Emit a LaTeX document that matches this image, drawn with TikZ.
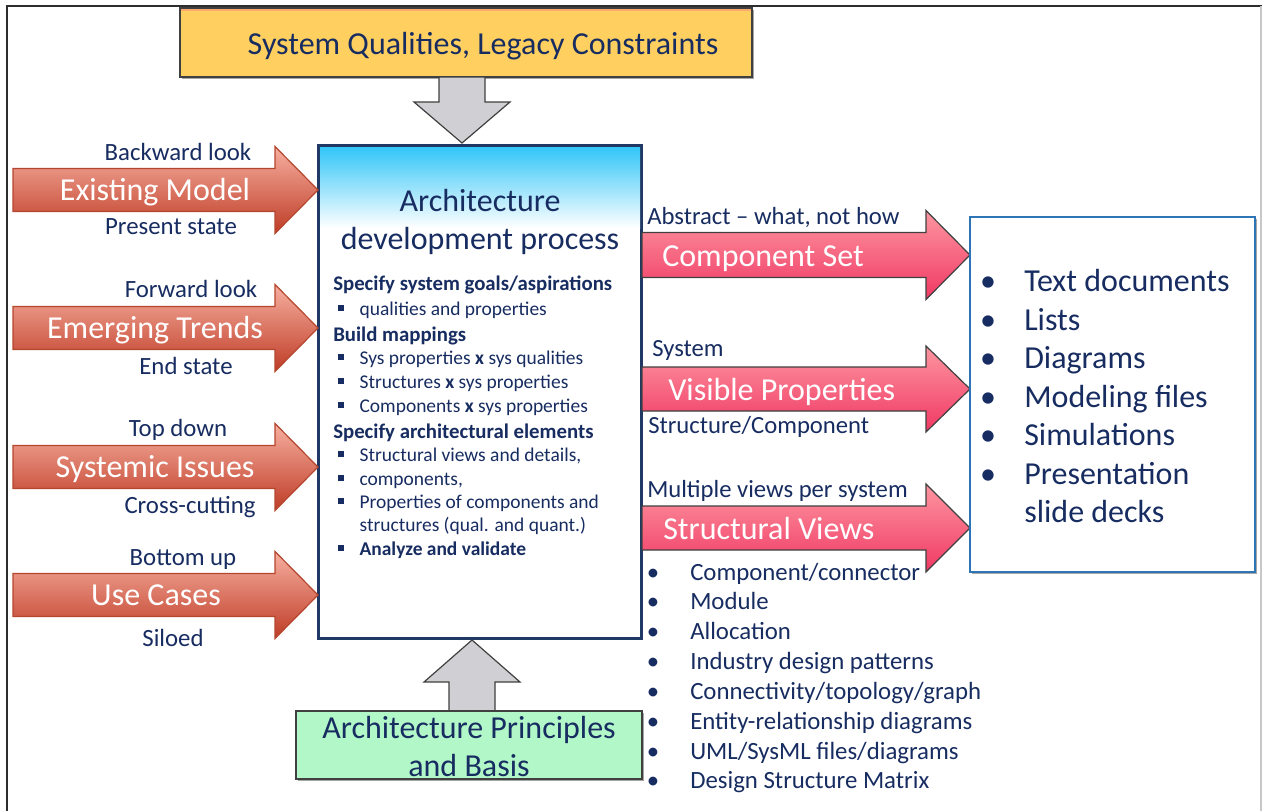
\documentclass[tikz,border=0pt]{standalone}
\usepackage{fontspec}
\setmainfont{Carlito}
\usetikzlibrary{shadows}
\definecolor{navy}{RGB}{23,44,96}
\definecolor{boxnavy}{RGB}{31,56,100}
\definecolor{salT}{RGB}{247,175,160}
\definecolor{salM}{RGB}{230,105,85}
\definecolor{salB}{RGB}{190,60,38}
\definecolor{salD}{RGB}{180,70,45}
\definecolor{pinkT}{RGB}{253,150,160}
\definecolor{pinkM}{RGB}{248,88,118}
\definecolor{pinkB}{RGB}{240,56,100}
\definecolor{edgegray}{RGB}{64,64,64}
\definecolor{arrgray}{RGB}{208,208,212}
\definecolor{yelfill}{RGB}{255,208,95}
\definecolor{yeltop}{RGB}{250,170,110}
\definecolor{grnfill}{RGB}{178,247,200}
\definecolor{cyantop}{RGB}{50,198,248}
\definecolor{rbox}{RGB}{46,117,182}
\definecolor{framegray}{RGB}{45,45,45}
\definecolor{lightframe}{RGB}{200,200,200}
\newcommand\blockR[7]{\path[#1] (#2,#5-#6) -- (#3,#5-#6) -- (#3,#5-#7) -- (#4,#5) -- (#3,#5+#7) -- (#3,#5+#6) -- (#2,#5+#6) -- cycle;}
\newcommand\sqbul{\makebox[17.5pt][l]{\hspace{1.5pt}\raisebox{0.2em}{\rule{0.3em}{0.3em}}}}
\tikzset{
  lbl/.style={text=navy, font=\fontsize{18.6}{22}\selectfont, inner sep=0pt},
  rlbl/.style={text=navy, font=\fontsize{18.5}{22}\selectfont, inner sep=0pt, anchor=base west},
  albl/.style={text=white, font=\fontsize{24}{28}\selectfont, inner sep=0pt},
  leftarr/.style={top color=salT, middle color=salM, bottom color=salB, draw=salD, line width=0.9pt},
  rightarr/.style={top color=pinkT, middle color=pinkM, bottom color=pinkB, draw=edgegray, line width=0.9pt},
  grayarr/.style={fill=arrgray, draw=edgegray, line width=0.9pt},
  boxline/.style={text=navy, font=\fontsize{14.6}{17}\selectfont, inner sep=0pt, anchor=base west},
  boxhead/.style={text=navy, font=\fontsize{15.6}{18}\selectfont\bfseries, inner sep=0pt, anchor=base west},
  blist/.style={text=navy, font=\fontsize{18.6}{22}\selectfont, inner sep=0pt, anchor=base west},
  bigl/.style={text=navy, font=\fontsize{24}{28}\selectfont, inner sep=0pt, anchor=base west},
  shad/.style={drop shadow={shadow xshift=1.5pt, shadow yshift=-1.5pt, opacity=0.35, fill=black}}
}
\begin{document}
\begin{tikzpicture}[x=0.75pt,y=-0.75pt]
\useasboundingbox (0,0) rectangle (1262,811);
\fill[white] (0,0) rectangle (1262,811);
% frame
\draw[framegray, line width=1.5pt] (1262,5.5) -- (6.5,5.5) -- (6.5,811);
\draw[lightframe, line width=1pt] (1261,5.5) -- (1261,811);

% top yellow box
\node[shad, draw=edgegray, fill=yelfill, line width=0.9pt, minimum width=572*0.75pt, minimum height=69*0.75pt, inner sep=0pt] (sq) at (466,42.5) {};
\fill[yeltop] (181,8.6) rectangle (751,10.5);
\node[text=navy, font=\fontsize{24}{28}\selectfont, anchor=base, inner sep=0pt] (sqt) at (483,54) {System Qualities, Legacy Constraints};
% top gray arrow (down)
\path[grayarr] (439,77) -- (485,77) -- (485,102) -- (510,102) -- (462,143) -- (414,102) -- (439,102) -- cycle;

% main box
\node[shad, draw=boxnavy, fill=white, line width=1.5pt, minimum width=322*0.75pt, minimum height=492*0.75pt, inner sep=0pt] (main) at (480,392) {};
\shade[top color=cyantop, bottom color=white] (320,147) rectangle (640,228);
\draw[boxnavy, line width=1.5pt] (main.north west) rectangle (main.south east);
\node[text=navy, font=\fontsize{24}{28}\selectfont, anchor=base, inner sep=0pt] (mt1) at (480,211) {Architecture};
\node[text=navy, font=\fontsize{24}{28}\selectfont, anchor=base, inner sep=0pt] (mt2) at (480,249) {development process};
\node[boxhead] (b1) at (333,290) {Specify system goals/aspirations};
\node[boxline] (b2) at (336,315) {\sqbul qualities and properties};
\node[boxhead] (b3) at (333,341) {Build mappings};
\node[boxline] (b4) at (336,364) {\sqbul Sys properties \textbf{x} sys qualities};
\node[boxline] (b5) at (336,388) {\sqbul Structures \textbf{x} sys properties};
\node[boxline] (b6) at (336,412) {\sqbul Components \textbf{x} sys properties};
\node[boxhead] (b7) at (333,438) {Specify architectural elements};
\node[boxline] (b8) at (336,461) {\sqbul Structural views and details,};
\node[boxline] (b9) at (336,485) {\sqbul components,};
\node[boxline] (b10) at (336,508) {\sqbul Properties of components and};
\node[boxline] (b11) at (336,531) {\hspace{17.5pt}structures (qual. and quant.)};
\node[boxline] (b12) at (336,555) {\sqbul\textbf{Analyze and validate}};

% left arrows
\blockR{leftarr}{13}{275}{318}{190}{21.5}{43.5}
\blockR{leftarr}{13}{275}{318}{328}{21.5}{43.5}
\blockR{leftarr}{13}{275}{318}{467}{21.5}{43.5}
\blockR{leftarr}{13}{275}{318}{595}{21.5}{43.5}
\node[albl, anchor=base] (la1) at (155,200) {Existing Model};
\node[albl, anchor=base] (la2) at (155,338) {Emerging Trends};
\node[albl, anchor=base] (la3) at (155,477) {Systemic Issues};
\node[albl, anchor=base] (la4) at (156,605) {Use Cases};
\node[lbl, anchor=base] (l1a) at (178,160) {Backward look};
\node[lbl, anchor=base] (l1b) at (171,234) {Present state};
\node[lbl, anchor=base] (l2a) at (191,297) {Forward look};
\node[lbl, anchor=base] (l2b) at (186,374) {End state};
\node[lbl, anchor=base] (l3a) at (178,436) {Top down};
\node[lbl, anchor=base] (l3b) at (190,513) {Cross-cutting};
\node[lbl, anchor=base] (l4a) at (183,565) {Bottom up};
\node[lbl, anchor=base] (l4b) at (173,646) {Siloed};

% right arrows
\blockR{rightarr}{642}{926}{970}{255}{22.5}{44.5}
\blockR{rightarr}{642}{926}{970}{389}{22}{43}
\blockR{rightarr}{642}{926}{970}{528}{22}{44}
\node[albl, anchor=base west] (ra1) at (662,266) {Component Set};
\node[albl, anchor=base west] (ra2) at (668,400) {Visible Properties};
\node[albl, anchor=base west] (ra3) at (663,539) {Structural Views};
\node[rlbl] (r1a) at (647,224) {Abstract -- what, not how};
\node[rlbl] (r2a) at (652,356) {System};
\node[rlbl] (r2b) at (648,433) {Structure/Component};
\node[rlbl] (r3a) at (647,497) {Multiple views per system};

% right output box
\node[shad, draw=rbox, fill=white, line width=0.9pt, minimum width=285*0.75pt, minimum height=355*0.75pt, inner sep=0pt] (out) at (1112.5,394.5) {};
\node[bigl, anchor=base] (ob1) at (988,291) {•};
\node[bigl] (ot1) at (1024,291) {Text documents};
\node[bigl, anchor=base] (ob2) at (988,330) {•};
\node[bigl] (ot2) at (1024,330) {Lists};
\node[bigl, anchor=base] (ob3) at (988,368) {•};
\node[bigl] (ot3) at (1024,368) {Diagrams};
\node[bigl, anchor=base] (ob4) at (988,407) {•};
\node[bigl] (ot4) at (1024,407) {Modeling files};
\node[bigl, anchor=base] (ob5) at (988,445) {•};
\node[bigl] (ot5) at (1024,445) {Simulations};
\node[bigl, anchor=base] (ob6) at (988,484) {•};
\node[bigl] (ot6) at (1024,484) {Presentation};
\node[bigl] (ot7) at (1024,522) {slide decks};

% structural view list
\node[blist, anchor=base] (sb1) at (653,580) {•};
\node[blist] (st1) at (690,580) {Component/connector};
\node[blist, anchor=base] (sb2) at (653,609) {•};
\node[blist] (st2) at (690,609) {Module};
\node[blist, anchor=base] (sb3) at (653,639) {•};
\node[blist] (st3) at (690,639) {Allocation};
\node[blist, anchor=base] (sb4) at (653,669) {•};
\node[blist] (st4) at (690,669) {Industry design patterns};
\node[blist, anchor=base] (sb5) at (653,699) {•};
\node[blist] (st5) at (690,699) {Connectivity/topology/graph};
\node[blist, anchor=base] (sb6) at (653,729) {•};
\node[blist] (st6) at (690,729) {Entity-relationship diagrams};
\node[blist, anchor=base] (sb7) at (653,759) {•};
\node[blist] (st7) at (690,759) {UML/SysML files/diagrams};
\node[blist, anchor=base] (sb8) at (653,788) {•};
\node[blist] (st8) at (690,788) {Design Structure Matrix};

% bottom gray arrow (up) and green box
\path[grayarr] (449,711) -- (495,711) -- (495,682) -- (520,682) -- (472,640) -- (424,682) -- (449,682) -- cycle;
\node[shad, draw=edgegray, fill=grnfill, line width=0.9pt, minimum width=346*0.75pt, minimum height=68*0.75pt, inner sep=0pt] (ap) at (469,745) {};
\node[text=navy, font=\fontsize{24}{28}\selectfont, anchor=base, inner sep=0pt] (ap1) at (469,738) {Architecture Principles};
\node[text=navy, font=\fontsize{24}{28}\selectfont, anchor=base, inner sep=0pt] (ap2) at (469,776) {and Basis};
\end{tikzpicture}
\end{document}
